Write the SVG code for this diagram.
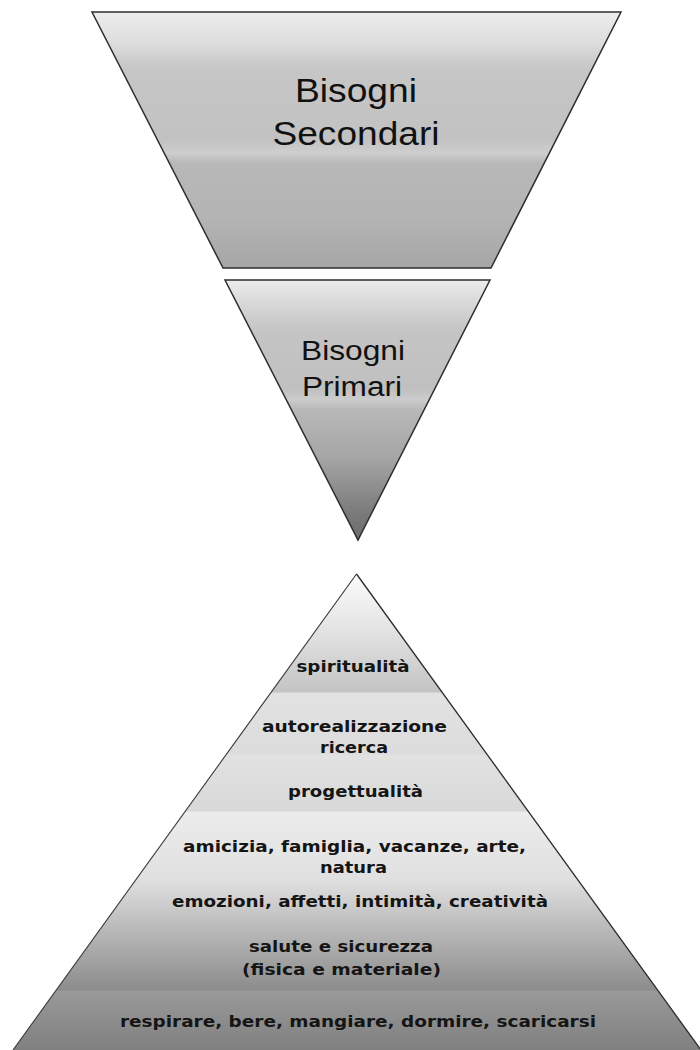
<svg xmlns="http://www.w3.org/2000/svg" width="700" height="1050" viewBox="0 0 700 1050">
  <defs>
    <linearGradient id="gSec" gradientUnits="userSpaceOnUse" x1="0" y1="12" x2="0" y2="268">
      <stop offset="0" stop-color="#ededed"/>
      <stop offset="0.12" stop-color="#dddddd"/>
      <stop offset="0.22" stop-color="#c6c6c6"/>
      <stop offset="0.5" stop-color="#c2c2c2"/>
      <stop offset="0.55" stop-color="#cecece"/>
      <stop offset="0.59" stop-color="#b8b8b8"/>
      <stop offset="0.8" stop-color="#b4b4b4"/>
      <stop offset="1" stop-color="#a6a6a6"/>
    </linearGradient>
    <linearGradient id="gPri" gradientUnits="userSpaceOnUse" x1="0" y1="280" x2="0" y2="540">
      <stop offset="0" stop-color="#ececec"/>
      <stop offset="0.1" stop-color="#d6d6d6"/>
      <stop offset="0.2" stop-color="#c4c4c4"/>
      <stop offset="0.42" stop-color="#c0c0c0"/>
      <stop offset="0.46" stop-color="#cccccc"/>
      <stop offset="0.5" stop-color="#b8b8b8"/>
      <stop offset="0.68" stop-color="#a6a6a6"/>
      <stop offset="0.8" stop-color="#8e8e8e"/>
      <stop offset="0.9" stop-color="#7a7a7a"/>
      <stop offset="1" stop-color="#6c6c6c"/>
    </linearGradient>
    <linearGradient id="gPyr" gradientUnits="userSpaceOnUse" x1="0" y1="574" x2="0" y2="1050">
      <stop offset="0" stop-color="#fbfbfb"/>
      <stop offset="0.097" stop-color="#e8e8e8"/>
      <stop offset="0.248" stop-color="#c4c4c4"/>
      <stop offset="0.250" stop-color="#e2e2e2"/>
      <stop offset="0.378" stop-color="#dcdcdc"/>
      <stop offset="0.380" stop-color="#e2e2e2"/>
      <stop offset="0.498" stop-color="#d8d8d8"/>
      <stop offset="0.500" stop-color="#ececec"/>
      <stop offset="0.643" stop-color="#e0e0e0"/>
      <stop offset="0.727" stop-color="#c0c0c0"/>
      <stop offset="0.811" stop-color="#a2a2a2"/>
      <stop offset="0.874" stop-color="#8c8c8c"/>
      <stop offset="0.876" stop-color="#999999"/>
      <stop offset="1" stop-color="#808080"/>
    </linearGradient>
  </defs>
  <style>
    .edge { stroke: #2e2e2e; stroke-width: 1.5; stroke-linejoin: miter; }
    .big { font-family: "Liberation Sans", Arial, sans-serif; fill: #111; text-anchor: middle; }
    .lvl { font-family: "DejaVu Sans", Verdana, sans-serif; font-weight: bold; font-size: 16px; fill: #151515; text-anchor: middle; }
  </style>
  <rect width="700" height="1050" fill="#ffffff"/>

  <g id="secondari">
    <polygon points="92,12 621,12 491,268 223,268" fill="url(#gSec)" class="edge"/>
    <text class="big" font-size="33" x="356" y="102" textLength="122" lengthAdjust="spacingAndGlyphs">Bisogni</text>
    <text class="big" font-size="33" x="356" y="145" textLength="167" lengthAdjust="spacingAndGlyphs">Secondari</text>
  </g>

  <g id="primari">
    <polygon points="225,280 490,280 358,540" fill="url(#gPri)" class="edge"/>
    <text class="big" font-size="27" x="353" y="360" textLength="104" lengthAdjust="spacingAndGlyphs">Bisogni</text>
    <text class="big" font-size="27" x="352" y="396" textLength="100" lengthAdjust="spacingAndGlyphs">Primari</text>
  </g>

  <g id="pyramid">
    <polygon points="356.5,574 701,1050 13,1050" fill="url(#gPyr)"/>
    <line x1="356.5" y1="574" x2="701" y2="1050" stroke="#2a2a2a" stroke-width="1.3"/>
    <line x1="356.5" y1="574" x2="13" y2="1050" stroke="#3a3a3a" stroke-width="1.1"/>
    <g id="level-spiritualita">
      <text class="lvl" x="353" y="672" textLength="113" lengthAdjust="spacingAndGlyphs">spiritualità</text>
    </g>
    <g id="level-autorealizzazione">
      <text class="lvl" x="354.5" y="732" textLength="185" lengthAdjust="spacingAndGlyphs">autorealizzazione</text>
      <text class="lvl" x="354" y="753" textLength="68" lengthAdjust="spacingAndGlyphs">ricerca</text>
    </g>
    <g id="level-progettualita">
      <text class="lvl" x="355.5" y="797" textLength="135" lengthAdjust="spacingAndGlyphs">progettualità</text>
    </g>
    <g id="level-amicizia">
      <text class="lvl" x="354.5" y="852" textLength="343" lengthAdjust="spacingAndGlyphs">amicizia, famiglia, vacanze, arte,</text>
      <text class="lvl" x="353.5" y="873" textLength="67" lengthAdjust="spacingAndGlyphs">natura</text>
    </g>
    <g id="level-emozioni">
      <text class="lvl" x="360" y="907" textLength="376" lengthAdjust="spacingAndGlyphs">emozioni, affetti, intimità, creatività</text>
    </g>
    <g id="level-salute">
      <text class="lvl" x="341" y="952" textLength="184" lengthAdjust="spacingAndGlyphs">salute e sicurezza</text>
      <text class="lvl" x="341.5" y="975" textLength="199" lengthAdjust="spacingAndGlyphs">(fisica e materiale)</text>
    </g>
    <g id="level-respirare">
      <text class="lvl" x="358" y="1027" textLength="476" lengthAdjust="spacingAndGlyphs">respirare, bere, mangiare, dormire, scaricarsi</text>
    </g>
  </g>

  <g id="connectors"/>
</svg>
